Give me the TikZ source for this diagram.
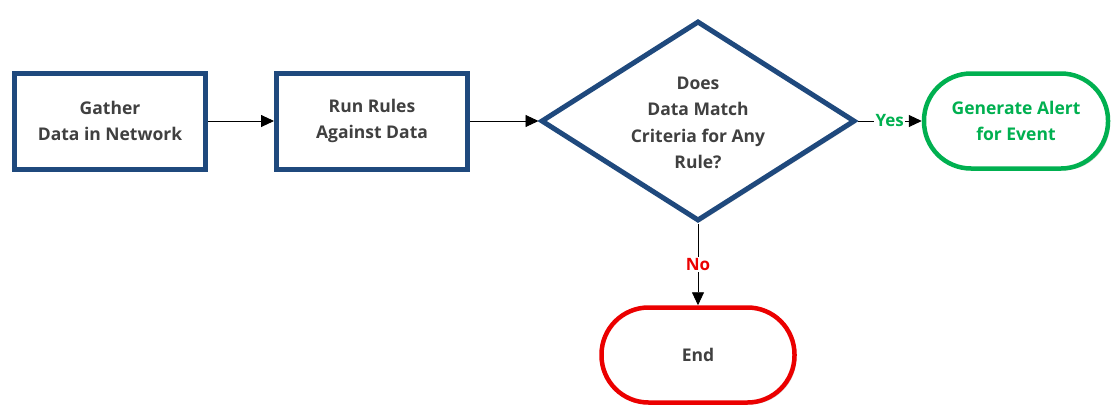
\documentclass[tikz,border=0pt]{standalone}
\usepackage{fontspec}
\setmainfont{Open Sans}
\usetikzlibrary{shapes.geometric,arrows.meta,shadows}
\definecolor{boxblue}{RGB}{31,73,125}
\definecolor{okgreen}{RGB}{0,176,80}
\definecolor{endred}{RGB}{235,0,0}
\definecolor{txt}{RGB}{64,64,64}
\tikzset{
  base/.style={fill=white, font=\bfseries\fontsize{17.5}{25.5}\selectfont, text=txt, align=center, inner sep=0pt,
    drop shadow={shadow xshift=2pt, shadow yshift=-2pt, fill=black, opacity=0.18}},
  procbox/.style={base, draw=boxblue, line width=5pt, minimum width=191pt, minimum height=96pt},
  decision/.style={base, diamond, draw=boxblue, line width=5pt, minimum width=314pt, minimum height=200pt},
  plaintext/.style={font=\bfseries\fontsize{17.5}{26.5}\selectfont, text=txt, align=center, inner sep=0pt},
  terminal/.style={base, rounded corners=47pt, line width=4.5pt, minimum height=95pt},
  conn/.style={draw=black, line width=0.9pt, -{Triangle[length=13pt,width=12pt]}},
  lab/.style={fill=white, inner sep=1.5pt, font=\bfseries\fontsize{17}{20}\selectfont}
}
\begin{document}
\begin{tikzpicture}[x=1pt,y=-1pt]
\useasboundingbox (0,0) rectangle (1113,407);
\node[procbox] (gather) at (110,121) {Gather\\Data in Network};
\node[procbox] (run) at (372,121) {Run Rules\\Against Data};
\node[decision] (dec) at (698,121) {};
\node[plaintext] (dectext) at (698,123) {Does\\Data Match\\Criteria for Any\\Rule?};
\node[terminal, draw=okgreen, text=okgreen, minimum width=184pt] (alert) at (1016,121) {Generate Alert\\for Event};
\node[terminal, draw=endred, minimum width=193pt] (end) at (698,355) {End};
\draw[conn] (gather.east) -- (run.west);
\draw[conn] (run.east) -- (dec.west);
\draw[conn] (dec.east) -- node[lab, text=okgreen] {Yes} (alert.west);
\draw[conn] (dec.south) -- node[lab, text=endred] {No} (end.north);
\end{tikzpicture}
\end{document}
